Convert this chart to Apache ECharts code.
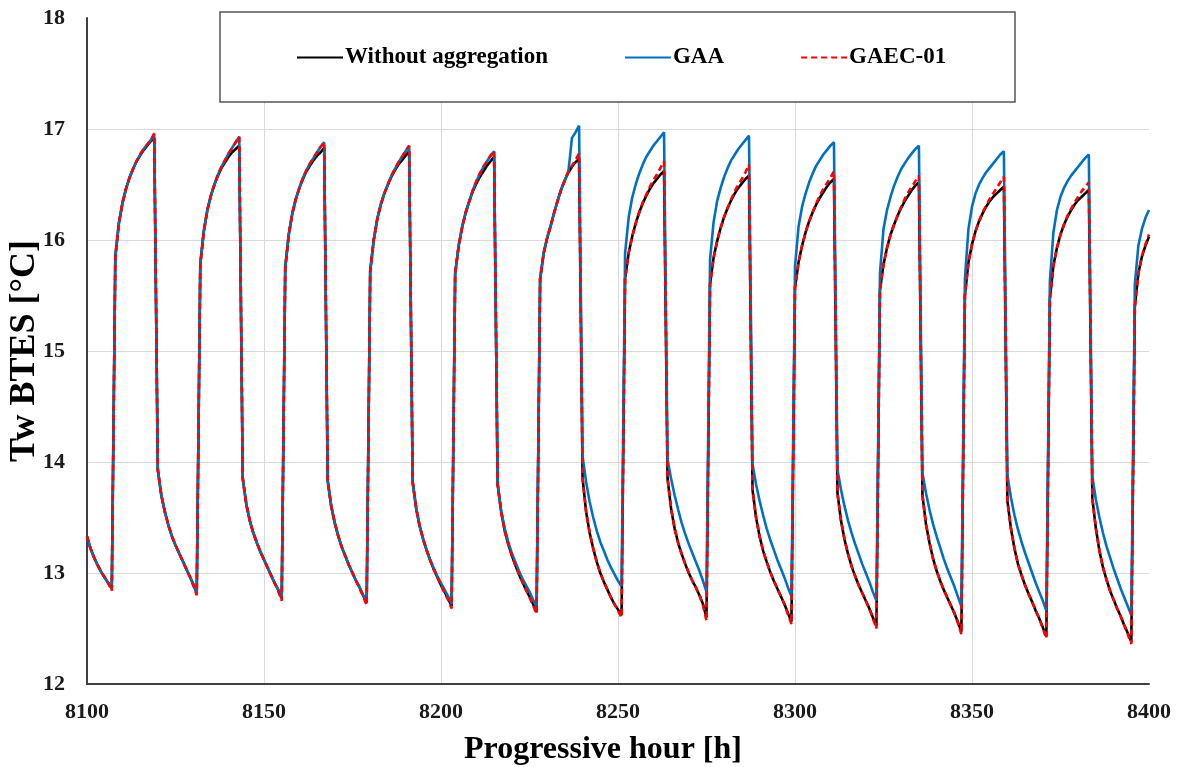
<!DOCTYPE html>
<html>
<head>
<meta charset="utf-8">
<script src="https://cdn.jsdelivr.net/npm/echarts@6/dist/echarts.min.js"></script>
<style>
html,body{margin:0;padding:0;background:#fff;}
#chart{width:1182px;height:767px;}
</style>
</head>
<body>
<div id="chart"></div>
<script>
// Hourly values, first value at startHour (8100), one per hour up to 8400
const startHour = 8100;
const xTicks = [8100, 8150, 8200, 8250, 8300, 8350, 8400];
const yTicks = [12, 13, 14, 15, 16, 17, 18];

const withoutAggregation = [
  13.33, 13.22, 13.14, 13.07, 13.01, 12.96, 12.91, 12.86,
  15.85, 16.15, 16.33, 16.46, 16.56, 16.64, 16.71, 16.76, 16.81, 16.85, 16.89, 16.92,
  13.93, 13.70, 13.55, 13.43, 13.33, 13.25, 13.18, 13.11, 13.04, 12.97, 12.90, 12.82,
  15.78, 16.08, 16.27, 16.40, 16.50, 16.58, 16.65, 16.70, 16.75, 16.79, 16.82, 16.85,
  13.85, 13.62, 13.47, 13.36, 13.27, 13.19, 13.12, 13.05, 12.98, 12.91, 12.85, 12.77,
  15.75, 16.05, 16.24, 16.37, 16.47, 16.55, 16.62, 16.67, 16.72, 16.76, 16.79, 16.83,
  13.83, 13.60, 13.45, 13.33, 13.23, 13.15, 13.07, 13.00, 12.93, 12.87, 12.80, 12.73,
  15.72, 16.00, 16.19, 16.32, 16.42, 16.50, 16.57, 16.63, 16.68, 16.72, 16.76, 16.80,
  13.82, 13.58, 13.42, 13.30, 13.20, 13.11, 13.03, 12.96, 12.89, 12.83, 12.77, 12.70,
  15.70, 15.95, 16.12, 16.25, 16.35, 16.44, 16.51, 16.57, 16.62, 16.67, 16.71, 16.75,
  13.80, 13.55, 13.38, 13.26, 13.16, 13.07, 12.99, 12.92, 12.85, 12.79, 12.72, 12.65,
  15.65, 15.88, 16.02, 16.13, 16.25, 16.36, 16.46, 16.54, 16.61, 16.66, 16.70, 16.73,
  13.85, 13.55, 13.36, 13.22, 13.10, 13.00, 12.92, 12.85, 12.78, 12.72, 12.67, 12.62,
  15.65, 15.88, 16.03, 16.15, 16.25, 16.33, 16.40, 16.46, 16.51, 16.55, 16.59, 16.62,
  13.85, 13.58, 13.40, 13.27, 13.17, 13.08, 13.00, 12.93, 12.87, 12.80, 12.72, 12.60,
  15.60, 15.84, 15.99, 16.11, 16.21, 16.29, 16.36, 16.42, 16.47, 16.51, 16.55, 16.58,
  13.75, 13.50, 13.33, 13.20, 13.10, 13.01, 12.93, 12.86, 12.79, 12.72, 12.64, 12.56,
  15.57, 15.80, 15.95, 16.07, 16.17, 16.25, 16.32, 16.38, 16.43, 16.48, 16.52, 16.55,
  13.72, 13.47, 13.30, 13.17, 13.06, 12.97, 12.89, 12.82, 12.75, 12.68, 12.60, 12.52,
  15.55, 15.78, 15.93, 16.05, 16.14, 16.22, 16.29, 16.35, 16.40, 16.45, 16.49, 16.52,
  13.70, 13.44, 13.27, 13.13, 13.02, 12.93, 12.85, 12.78, 12.71, 12.64, 12.56, 12.47,
  15.50, 15.80, 15.96, 16.08, 16.17, 16.24, 16.30, 16.35, 16.39, 16.42, 16.45, 16.48,
  13.65, 13.40, 13.22, 13.08, 12.98, 12.89, 12.81, 12.74, 12.66, 12.59, 12.51, 12.43,
  15.47, 15.77, 15.93, 16.05, 16.14, 16.21, 16.27, 16.32, 16.36, 16.39, 16.42, 16.45,
  13.67, 13.40, 13.20, 13.05, 12.94, 12.84, 12.76, 12.68, 12.61, 12.53, 12.46, 12.38,
  15.40, 15.70, 15.85, 15.95, 16.03
];

const gaa = [
  13.33, 13.22, 13.14, 13.07, 13.01, 12.96, 12.91, 12.86,
  15.85, 16.15, 16.33, 16.46, 16.56, 16.64, 16.71, 16.77, 16.82, 16.86, 16.90, 16.95,
  13.93, 13.70, 13.55, 13.43, 13.33, 13.25, 13.18, 13.11, 13.04, 12.97, 12.90, 12.82,
  15.78, 16.08, 16.27, 16.40, 16.50, 16.59, 16.66, 16.72, 16.78, 16.83, 16.88, 16.93,
  13.85, 13.62, 13.47, 13.36, 13.27, 13.19, 13.12, 13.05, 12.98, 12.91, 12.85, 12.77,
  15.75, 16.05, 16.24, 16.37, 16.47, 16.56, 16.63, 16.69, 16.74, 16.79, 16.84, 16.88,
  13.83, 13.60, 13.45, 13.33, 13.23, 13.15, 13.07, 13.00, 12.93, 12.87, 12.80, 12.73,
  15.72, 16.00, 16.19, 16.32, 16.42, 16.50, 16.58, 16.64, 16.70, 16.75, 16.80, 16.85,
  13.82, 13.58, 13.42, 13.30, 13.20, 13.11, 13.04, 12.97, 12.91, 12.85, 12.79, 12.72,
  15.70, 15.95, 16.12, 16.25, 16.35, 16.45, 16.53, 16.60, 16.66, 16.71, 16.76, 16.80,
  13.80, 13.56, 13.40, 13.28, 13.18, 13.10, 13.02, 12.95, 12.89, 12.83, 12.76, 12.70,
  15.65, 15.88, 16.02, 16.13, 16.25, 16.36, 16.46, 16.54, 16.62, 16.92, 16.97, 17.03,
  14.05, 13.82, 13.64, 13.50, 13.38, 13.28, 13.20, 13.12, 13.05, 12.99, 12.93, 12.88,
  15.88, 16.20, 16.38, 16.50, 16.60, 16.68, 16.75, 16.80, 16.85, 16.89, 16.93, 16.97,
  14.02, 13.85, 13.70, 13.57, 13.45, 13.35, 13.26, 13.18, 13.10, 13.02, 12.93, 12.83,
  15.82, 16.16, 16.35, 16.47, 16.57, 16.65, 16.72, 16.77, 16.82, 16.86, 16.90, 16.94,
  13.98, 13.80, 13.65, 13.52, 13.40, 13.30, 13.21, 13.12, 13.04, 12.96, 12.87, 12.79,
  15.76, 16.12, 16.30, 16.42, 16.52, 16.60, 16.67, 16.72, 16.77, 16.81, 16.85, 16.88,
  13.93, 13.75, 13.60, 13.47, 13.36, 13.26, 13.17, 13.08, 13.00, 12.92, 12.83, 12.75,
  15.70, 16.10, 16.27, 16.39, 16.49, 16.57, 16.64, 16.69, 16.74, 16.78, 16.82, 16.85,
  13.90, 13.72, 13.57, 13.44, 13.33, 13.23, 13.13, 13.04, 12.96, 12.88, 12.79, 12.70,
  15.65, 16.10, 16.30, 16.42, 16.50, 16.56, 16.61, 16.65, 16.69, 16.73, 16.77, 16.80,
  13.88, 13.68, 13.52, 13.39, 13.28, 13.18, 13.09, 13.00, 12.91, 12.83, 12.75, 12.66,
  15.63, 16.07, 16.27, 16.39, 16.47, 16.53, 16.58, 16.62, 16.66, 16.70, 16.74, 16.77,
  13.87, 13.66, 13.50, 13.36, 13.24, 13.14, 13.04, 12.95, 12.86, 12.78, 12.70, 12.62,
  15.60, 15.95, 16.10, 16.20, 16.27
];

const gaec01 = [
  13.33, 13.22, 13.14, 13.07, 13.01, 12.96, 12.91, 12.84,
  15.85, 16.15, 16.33, 16.46, 16.56, 16.64, 16.71, 16.77, 16.82, 16.86, 16.90, 16.96,
  13.93, 13.70, 13.55, 13.43, 13.33, 13.25, 13.18, 13.11, 13.04, 12.97, 12.89, 12.80,
  15.78, 16.08, 16.27, 16.40, 16.50, 16.59, 16.66, 16.72, 16.78, 16.83, 16.88, 16.93,
  13.85, 13.62, 13.47, 13.36, 13.27, 13.19, 13.12, 13.05, 12.98, 12.91, 12.84, 12.75,
  15.75, 16.05, 16.24, 16.37, 16.47, 16.56, 16.63, 16.69, 16.74, 16.79, 16.84, 16.88,
  13.83, 13.60, 13.45, 13.33, 13.23, 13.15, 13.07, 13.00, 12.93, 12.86, 12.79, 12.71,
  15.72, 16.00, 16.19, 16.32, 16.42, 16.50, 16.58, 16.64, 16.70, 16.75, 16.80, 16.85,
  13.82, 13.58, 13.42, 13.30, 13.20, 13.11, 13.03, 12.96, 12.89, 12.82, 12.76, 12.68,
  15.70, 15.95, 16.12, 16.25, 16.35, 16.45, 16.53, 16.60, 16.66, 16.71, 16.76, 16.80,
  13.80, 13.55, 13.38, 13.26, 13.16, 13.07, 12.99, 12.92, 12.85, 12.78, 12.71, 12.63,
  15.65, 15.88, 16.02, 16.13, 16.25, 16.36, 16.46, 16.54, 16.62, 16.67, 16.72, 16.78,
  13.85, 13.55, 13.36, 13.22, 13.10, 13.00, 12.92, 12.85, 12.78, 12.72, 12.66, 12.60,
  15.65, 15.88, 16.03, 16.15, 16.25, 16.34, 16.41, 16.48, 16.54, 16.59, 16.65, 16.71,
  13.85, 13.58, 13.40, 13.27, 13.17, 13.08, 13.00, 12.93, 12.87, 12.80, 12.71, 12.57,
  15.60, 15.84, 15.99, 16.11, 16.21, 16.29, 16.37, 16.44, 16.50, 16.55, 16.61, 16.68,
  13.75, 13.50, 13.33, 13.20, 13.10, 13.01, 12.93, 12.86, 12.79, 12.72, 12.63, 12.54,
  15.57, 15.80, 15.95, 16.07, 16.17, 16.25, 16.33, 16.40, 16.46, 16.51, 16.56, 16.62,
  13.72, 13.47, 13.30, 13.17, 13.06, 12.97, 12.89, 12.82, 12.75, 12.68, 12.59, 12.50,
  15.55, 15.78, 15.93, 16.05, 16.14, 16.22, 16.30, 16.37, 16.43, 16.48, 16.53, 16.58,
  13.70, 13.44, 13.27, 13.13, 13.02, 12.93, 12.85, 12.78, 12.71, 12.64, 12.55, 12.45,
  15.50, 15.80, 15.96, 16.08, 16.17, 16.25, 16.31, 16.37, 16.42, 16.47, 16.52, 16.57,
  13.65, 13.40, 13.22, 13.08, 12.98, 12.89, 12.81, 12.74, 12.66, 12.59, 12.50, 12.41,
  15.47, 15.77, 15.93, 16.05, 16.14, 16.22, 16.28, 16.34, 16.39, 16.44, 16.48, 16.52,
  13.67, 13.40, 13.20, 13.05, 12.94, 12.84, 12.76, 12.68, 12.61, 12.53, 12.45, 12.36,
  15.40, 15.70, 15.86, 15.96, 16.05
];

const seriesNames = ['Without aggregation', 'GAA', 'GAEC-01'];

function toPairs(values) {
  return values.map((v, i) => [startHour + i, v]);
}

const FONT = '"Liberation Serif", "Times New Roman", serif';
const chart = echarts.init(document.getElementById('chart'), null, {renderer: 'canvas'});

chart.setOption({
  animation: false,
  backgroundColor: '#ffffff',
  grid: {left: 87, right: 33, top: 18, bottom: 83, containLabel: false, outerBoundsMode: 'none'},
  graphic: [{
    type: 'rect',
    z: 3,
    shape: {x: 220, y: 12, width: 795, height: 90},
    style: {fill: '#ffffff', stroke: '#555555', lineWidth: 1.5}
  }],
  legend: {
    z: 10,
    left: 296,
    top: 46,
    padding: 0,
    itemGap: 76,
    itemWidth: 46,
    itemHeight: 6,
    icon: 'inherit',
    itemStyle: {opacity: 0},
    lineStyle: {opacity: 1},
    data: seriesNames,
    textStyle: {fontFamily: FONT, fontWeight: 'bold', fontSize: 23, color: '#000', padding: [0, 0, 0, -3]}
  },
  xAxis: {
    type: 'value',
    min: xTicks[0],
    max: xTicks[xTicks.length - 1],
    interval: xTicks[1] - xTicks[0],
    name: 'Progressive hour [h]',
    nameLocation: 'middle',
    nameGap: 50,
    nameMoveOverlap: false,
    nameTextStyle: {fontFamily: FONT, fontWeight: 'bold', fontSize: 32, color: '#000', padding: [0, 30, 0, 0]},
    axisLine: {show: true, onZero: false, lineStyle: {color: '#404040', width: 2}},
    axisTick: {show: false},
    axisLabel: {margin: 17, formatter: (v) => String(v), fontFamily: FONT, fontWeight: 'bold', fontSize: 22, color: '#1a1a1a'},
    splitLine: {show: true, showMinLine: false, showMaxLine: false, lineStyle: {color: '#d9d9d9', width: 1}}
  },
  yAxis: {
    type: 'value',
    min: yTicks[0],
    max: yTicks[yTicks.length - 1],
    interval: yTicks[1] - yTicks[0],
    name: 'Tw BTES [°C]',
    nameLocation: 'middle',
    nameRotate: 90,
    nameGap: 44,
    nameMoveOverlap: false,
    nameTextStyle: {fontFamily: FONT, fontWeight: 'bold', fontSize: 36, color: '#000'},
    axisLine: {show: true, lineStyle: {color: '#404040', width: 2}},
    axisTick: {show: false},
    axisLabel: {margin: 22, formatter: (v) => String(v), fontFamily: FONT, fontWeight: 'bold', fontSize: 22, color: '#1a1a1a'},
    splitLine: {show: true, showMinLine: false, showMaxLine: false, lineStyle: {color: '#d9d9d9', width: 1}}
  },
  series: [
    {
      name: seriesNames[0], type: 'line', symbol: 'none', showSymbol: false,
      data: toPairs(withoutAggregation),
      lineStyle: {color: '#000000', width: 2.6}, itemStyle: {color: '#000000'}, z: 2
    },
    {
      name: seriesNames[1], type: 'line', symbol: 'none', showSymbol: false,
      data: toPairs(gaa),
      lineStyle: {color: '#0070C0', width: 2.6}, itemStyle: {color: '#0070C0'}, z: 3
    },
    {
      name: seriesNames[2], type: 'line', symbol: 'none', showSymbol: false,
      data: toPairs(gaec01),
      lineStyle: {color: '#FF0000', width: 2.6, type: [6, 4]}, itemStyle: {color: '#FF0000'}, z: 4
    }
  ]
});
</script>
</body>
</html>
